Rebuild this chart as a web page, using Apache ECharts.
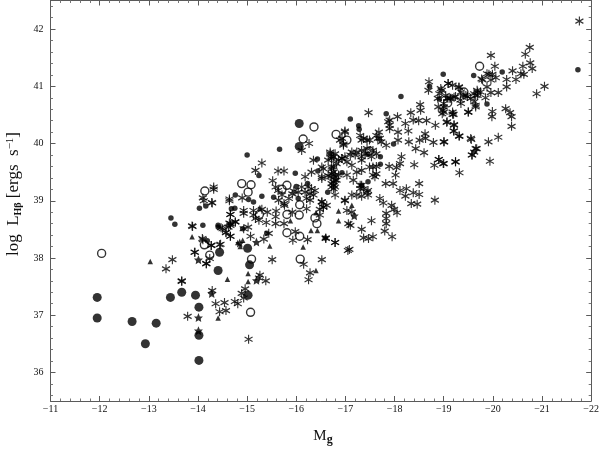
<!DOCTYPE html>
<html><head><meta charset="utf-8">
<style>html,body{margin:0;padding:0;background:#fff}#c{width:602px;height:450px}</style>
<script src="https://cdn.jsdelivr.net/npm/echarts@6/dist/echarts.min.js"></script>
</head><body><div id="c"></div>
<script>
const xMajorTicks=[-22,-21,-20,-19,-18,-17,-16,-15,-14,-13,-12,-11];
const yMajorTicks=[36,37,38,39,40,41,42];
const yMinorTicks=[35.6,35.8,36.2,36.4,36.6,36.8,37.2,37.4,37.6,37.8,38.2,38.4,38.6,38.8,39.2,39.4,39.6,39.8,40.2,40.4,40.6,40.8,41.2,41.4,41.6,41.8,42.2,42.4];
const bigDots=[[-11.95,37.31],[-11.95,36.95],[-12.66,36.89],[-13.15,36.86],[-12.93,36.5],[-13.44,37.31],[-13.67,37.4],[-13.95,37.35],[-14.02,37.14],[-14.02,36.65],[-14.02,36.21],[-14.44,38.1],[-14.41,37.78],[-16.06,40.35],[-16.06,39.95],[-15.01,38.17],[-15.05,37.88],[-15.02,37.35]];
const stars=[[-14.01,36.73],[-14.01,36.96],[-14.01,37.97],[-14.28,37.38],[-15.19,38.28],[-15.19,37.61],[-14.85,38.26],[-17.18,38.74]];
const smallDots=[[-13.45,38.7],[-13.53,38.59],[-14.03,38.87],[-14.16,38.91],[-14.1,38.57],[-14.19,38.3],[-14.41,38.57],[-14.41,38.54],[-14.68,38.86],[-14.75,38.87],[-15,39.8],[-15.66,39.9],[-15.24,39.44],[-16.43,39.73],[-15.98,39.48],[-16.44,39.52],[-16.93,39.49],[-16.64,39.15],[-16.23,39.3],[-16,39.25],[-16.04,39.04],[-15.3,39.08],[-15.54,39.06],[-15.13,38.98],[-15.03,39.02],[-14.76,39.1],[-15.4,38.43],[-16.59,38.35],[-14.91,38.51],[-18.99,41.21],[-19.61,41.19],[-18.71,41],[-18.13,40.82],[-17.83,40.52],[-17.1,40.43],[-17.27,40.31],[-17.28,40.25],[-18.91,40.78],[-19.88,40.69],[-17.71,39.77],[-17.71,39.64],[-17.46,39.81],[-17.98,39.99],[-17.46,39.33],[-17.33,39.27],[-20.19,41.25],[-21.73,41.29]];
const triangles=[[-13.03,37.94],[-13.88,38.37],[-14.6,37.63],[-14.41,36.95],[-14.81,38.27],[-15.02,37.73],[-15.02,37.59],[-15.46,38.21],[-14.86,38.2],[-14.91,38.31],[-15.26,38.88],[-15.88,38.65],[-16.3,38.48],[-16.43,38.48],[-16.4,38.79],[-16.86,38.82],[-16.86,38.65],[-16.14,38.19],[-16.4,37.78],[-17.13,38.92]];
const openCircles=[[-12.04,38.08],[-14.13,38.23],[-14.24,38.05],[-14.14,39.17],[-14.89,39.3],[-15.08,39.28],[-15.02,39.15],[-15.09,37.98],[-15.07,37.05],[-16.36,40.29],[-16.14,40.08],[-16.81,40.16],[-15.81,39.27],[-15.71,39.2],[-15.25,38.76],[-15.81,38.76],[-16.07,38.93],[-16.06,38.75],[-16.38,38.7],[-16.42,38.6],[-15.81,38.44],[-16.07,38.38],[-16.08,37.98],[-17.03,40.06],[-19.08,40.71],[-19.41,40.9],[-19.73,41.35],[-17.49,39.87]];
const asterisks=[
[-13.48,37.97],[-13.35,37.81],[-13.67,37.6],[-13.79,36.98],[-14.36,37.2],[-14.44,37.06],[-14.57,37.08],[-14.75,37.24],[-13.89,38.55],[-14.1,38.32],[-14.27,38.22],[-14.44,38.23],[-13.94,38.1],[-14.17,37.9],[-14.24,37.99],[-14.66,38.76],[-14.64,38.61],[-14.66,38.57],[-14.76,38.63],[-14.47,38.53],[-14.57,38.45],[-14.66,38.38],[-14.29,38.96],[-14.12,39],[-14.64,39],
[-15.3,39.66],[-15.17,39.53],[-16.26,40],[-16.11,39.88],[-14.32,39.24],[-14.32,39.2],[-14.1,39.05],[-14.28,38.97],[-14.64,39.03],[-14.9,39.05],[-15.63,39.52],[-15.75,39.52],[-15.52,39.35],[-15.58,39.24],[-15.63,39.18],[-15.75,38.95],[-13.88,38.56],[-14.66,38.76],[-14.66,38.6],[-14.76,38.63],[-14.62,38.54],[-14.5,38.51],[-14.57,38.44],[-14.66,38.38],[-14.93,38.83],[-14.93,38.78],[-15.13,38.83],[-15.17,38.69],[-15.3,38.85],[-15.41,38.8],[-15.59,38.82],[-15.58,38.72],[-15.58,38.6],[-15.39,38.62],[-15.75,38.6],[-15.07,38.38],[-14.93,38.51],[-15.44,38.43],[-15.34,38.33],[-15.93,38.31],[-15.98,38.46],[-16.23,38.32],[-16.6,38.35],[-16.79,38.27],[-17.05,38.13],[-15.51,37.97],[-16.52,37.97],[-16.15,37.89],[-16.28,37.74],[-16.25,37.62],[-15.26,37.7],[-13.67,37.59],[-14.96,37.46],[-14.29,37.43],[-14.09,38.34],[-13.93,38.1],[-14.27,38.22],[-14.17,37.9],[-14.46,38.24],[-15.76,38.92],[-15.92,38.8],[-16.52,38.98],[-16.55,38.89],[-16.48,38.85],[-16.99,39.01],[-17.06,38.6],[-16.21,38.86],[-16.31,39.5],[-16.35,39.71],[-16.52,39.39],[-16.55,39.56],[-16.18,39.42],[-16.99,40.2],[-16.93,40.09],[-16.96,39.99],[-16.69,39.82],[-16.72,39.74],[-16.93,39.74],[-17.03,39.68],[-16.76,39.59],[-16.76,39.5],[-16.79,39.42],[-16.76,39.33],[-16.79,39.24],[-16.79,39.1],[-16.31,39.21],[-16.28,39.12],[-16.21,39.04],[-16.35,39.1],[-16.28,39.01],[-16.11,39.24],[-15.95,39.17],
[-17.47,40.54],[-16.99,40.22],[-16.89,40.06],[-16.96,39.97],[-17.37,40.09],[-17.3,40.14],[-17.49,40.06],[-17.68,40.2],[-17.66,40.09],[-17.73,40.03],[-17.9,40.41],[-17.9,40.32],[-18.06,40.47],[-18.07,40.2],[-18.07,40.06],[-17.83,39.97],[-18.22,40.35],[-18.33,40.54],[-18.28,40.22],[-18.38,40.41],[-18.52,40.68],[-18.53,40.58],[-18.49,40.4],[-18.65,40.4],[-18.62,40.17],[-18.63,40.09],[-18.29,40.03],[-18.51,40.06],[-18.43,39.91],[-18.6,39.84],[-18.79,40.02],[-18.83,40.32],[-19.07,40.38],[-19,40.03],[-19.21,40.33],[-19.2,40.22],[-19.32,40.13],[-19.56,40.07],[-19.2,40.51],[-18.98,40.58],[-18.96,40.93],[-18.89,40.64],[-18.7,41.08],[-18.69,40.93],[-19.09,41.05],[-19.31,40.99],[-19.14,40.79],[-19.24,40.82],[-19.34,40.76],[-19.48,40.82],[-19.62,40.73],[-19.65,40.64],[-19.5,40.55],[-19.69,40.9],[-19.79,41.11],[-19.88,41.22],[-19,40.7],[-19.65,39.91],[-19.58,39.8],[-18.9,39.72],[-18.81,39.62],[-19,39.65],[-19.24,39.68],[-19.32,39.49],[-18.4,39.63],[-18.14,39.77],[-18.11,39.65],[-18.04,39.58],[-18.02,39.45],[-17.97,39.3],[-17.89,39.6],[-17.82,39.3],[-18.5,39.3],[-18.11,39.18],[-18.24,39.21],[-18.22,39.08],[-18.38,39.14],[-18.5,39.11],[-18.34,38.95],[-18.46,38.94],[-18.82,39.01],[-17.7,39.04],[-17.77,38.96],[-17.94,38.92],[-17.99,38.85],[-18.05,38.79],[-17.83,38.78],[-17.83,38.69],[-17.83,38.6],[-17.8,38.47],[-17.95,38.37],[-17.53,38.65],[-17.33,38.5],[-17.37,38.35],[-17.47,38.34],[-17.56,38.37],[-17.1,38.57],[-16.79,38.27],[-16.6,38.34],[-17.08,38.15],[-16.99,39],[-17.13,39.1],[-17.23,39.1],[-17.33,39.08],[-17.46,39.1],[-17.44,39.15],[-17.3,39.21],[-17.33,39.27],[-17.6,39.42],[-17.49,39.59],[-17.56,39.59],[-17.63,39.6],[-17.16,39.36],[-17.03,39.45],[-17.23,39.5],[-17.33,39.53],[-17.13,39.62],[-17.33,39.71],[-16.69,39.85],[-16.76,39.77],[-16.93,39.74],[-17.1,39.8],[-17.2,39.8],[-17.33,39.88],[-17.44,39.91],[-17.56,39.88],[-16.52,39.42],[-16.52,39.59],[-16.72,39.56],[-16.79,39.45],[-16.72,39.3],[-16.76,39.21],[-16.52,38.98],[-16.55,38.89],[-16.48,38.75],[-17.03,38.83],[-17.13,38.8],
[-21.76,42.14],[-19.96,41.54],[-20.75,41.68],[-20.66,41.56],[-20.76,41.41],[-20.61,41.35],[-20.8,41.31],[-20.63,41.21],[-20.57,41.22],[-20.4,41.27],[-20.04,41.35],[-20.47,41.12],[-20.28,41.12],[-20.28,40.99],[-21.05,41],[-20.89,40.87],[-19.99,41.21],[-19.92,41.21],[-20.06,41.15],[-19.96,41.11],[-19.77,41.13],[-19.88,40.99],[-19.85,40.8],[-20.11,40.89],[-19.96,40.89],[-19.68,40.93],[-19.65,40.84],[-19.55,40.79],[-19.65,40.67],[-19.5,40.55],[-19.99,40.56],[-19.98,40.47],[-20.26,40.61],[-20.35,40.54],[-20.38,40.47],[-20.38,40.3],[-20.11,40.11],[-19.91,40.03],[-19.67,39.91],[-19.62,39.85],[-19.57,39.8],[-19.55,40.09],[-19.31,40.13],[-19.01,40.03],[-19.21,40.32],[-19.21,40.22],[-19.06,40.37],[-19.18,40.51],[-18.97,40.52],[-19.94,39.69],[-19.24,39.68],[-18.99,39.65],[-18.9,39.72],[-19.09,41.05],[-19.18,41.02],[-19.31,40.98],[-18.94,40.96],[-19.41,40.84],[-19.21,40.81],[-19.07,40.79],[-19.35,40.7],[-19,40.64],
[-15.03,36.58],[-14.81,37.2],[-14.89,37.38],[-14.93,37.3],[-14.54,37.22],[-15.24,37.65],[-15.38,37.6],
[-16.72,39.77],[-16.79,39.82],[-16.65,39.71],[-16.86,39.71],[-16.99,39.77],[-17.13,39.85],[-17.23,39.85],[-17.4,39.82],[-17.53,39.77],[-17.63,39.82],[-17.33,39.77],[-16.72,39.47],[-16.79,39.36],[-16.69,39.42],[-16.76,39.27],[-16.86,39.45],[-17.3,39.27],[-17.37,39.21],[-17.46,39.18],[-17.56,39.45],[-17.63,39.47],[-17.9,40.26],[-17.87,40.38],[-17.63,40.14],[-17.7,40.09],[-17.44,40.06],[-17.33,40.06],[-18.88,40.79],[-18.91,40.87],[-19,40.55],[-19.18,40.55],[-19.35,40.9],[-19.45,40.84],[-19.62,40.87],[-19.69,40.84],[-19.75,40.9],[-19.04,40.84],[-19.11,40.79],
[-15.13,38.75],[-15.24,38.66],[-15.02,38.54],[-15.64,39.01],[-15.71,39.1],[-15.85,39.04],[-15.92,39.12],[-16.04,39.15],[-16.18,39.15],[-16.24,39.24],[-16.38,39.18],[-16.62,38.92],[-16.72,39.59],[-16.82,39.65],[-16.65,39.44],[-16.82,39.36],[-16.72,39.24]
];
const asteriskPath='path://M0 -5L0 5M-4.3 -2.5L4.3 2.5M-4.3 2.5L4.3 -2.5';
const starPath='path://M0 -10L2.9 -3.1L9.5 -3.1L4.7 1.5L5.9 8.1L0 4.6L-5.9 8.1L-4.7 1.5L-9.5 -3.1L-2.9 -3.1Z';
const axisColor='#5a5a5a';
const tickFont={fontFamily:'Liberation Serif',fontSize:10,color:'#111'};
function xAx(pos,labels){return {type:'value',inverse:true,min:-22,max:-11,interval:1,position:pos,
 axisLine:{onZero:false,lineStyle:{color:axisColor,width:1}},
 axisTick:{inside:true,length:5,lineStyle:{color:axisColor}},
 minorTick:{show:true,splitNumber:5,length:2.5,lineStyle:{color:'#777'}},
 splitLine:{show:false},minorSplitLine:{show:false},
 axisLabel:{show:labels,margin:3,...tickFont,formatter:v=>'\u2212'+Math.abs(v)}};}
function yAx(pos,labels,minor){const vals=minor?yMinorTicks:yMajorTicks;return {type:'value',min:35.5,max:42.5,position:pos,
 axisLine:{show:!minor,onZero:false,lineStyle:{color:axisColor,width:1}},
 axisTick:{inside:true,length:minor?2.5:5,customValues:vals,lineStyle:{color:minor?'#777':axisColor}},
 splitLine:{show:false},
 axisLabel:{show:labels,customValues:yMajorTicks,margin:7,...tickFont}};}
function sc(name,data,sym,size,style){return {name,type:'scatter',data,symbol:sym,symbolSize:size,itemStyle:style,silent:true,animation:false,xAxisIndex:0,yAxisIndex:0};}
const chart=echarts.init(document.getElementById('c'),null,{renderer:'canvas'});
chart.setOption({animation:false,backgroundColor:'#fff',
 grid:{left:50.5,top:0.5,width:543,height:400.5,containLabel:false},
 xAxis:[xAx('bottom',true),xAx('top',false)],
 yAxis:[yAx('left',true,false),yAx('right',false,false),yAx('left',false,true),yAx('right',false,true)],
 series:[
  sc('HII',asterisks,asteriskPath,[8,9],{color:'transparent',borderColor:'#000',borderWidth:1.2}),
  sc('Open',openCircles,'circle',8,{color:'transparent',borderColor:'#000',borderWidth:1.4}),
  sc('Small',smallDots,'circle',5.5,{color:'#000'}),
  sc('Tri',triangles,'triangle',5.5,{color:'#000'}),
  sc('Star',stars,starPath,9,{color:'#000'}),
  sc('Big',bigDots,'circle',9,{color:'#000'})
 ],
 graphic:[
  {type:'text',x:323,y:436,style:{text:'{a|M}{b|g}',align:'center',verticalAlign:'middle',rich:{a:{fontFamily:'Liberation Serif',fontSize:15,fill:'#111'},b:{fontFamily:'Liberation Serif',fontWeight:'bold',fontSize:12,fill:'#111',padding:[8,0,0,0]}}}},
  {type:'text',x:14,y:194,rotation:Math.PI/2,style:{text:'{a|log  L}{s|H\u03b2}{a| [ergs  s}{u|\u22121}{a|]}',align:'center',verticalAlign:'middle',rich:{a:{fontFamily:'Liberation Serif',fontSize:17,fill:'#111'},s:{fontFamily:'Liberation Serif',fontWeight:'bold',fontSize:10,fill:'#111',padding:[8,0,0,0]},u:{fontFamily:'Liberation Serif',fontSize:11,fill:'#111',padding:[0,0,7,0]}}}}
 ]
});
</script></body></html>
